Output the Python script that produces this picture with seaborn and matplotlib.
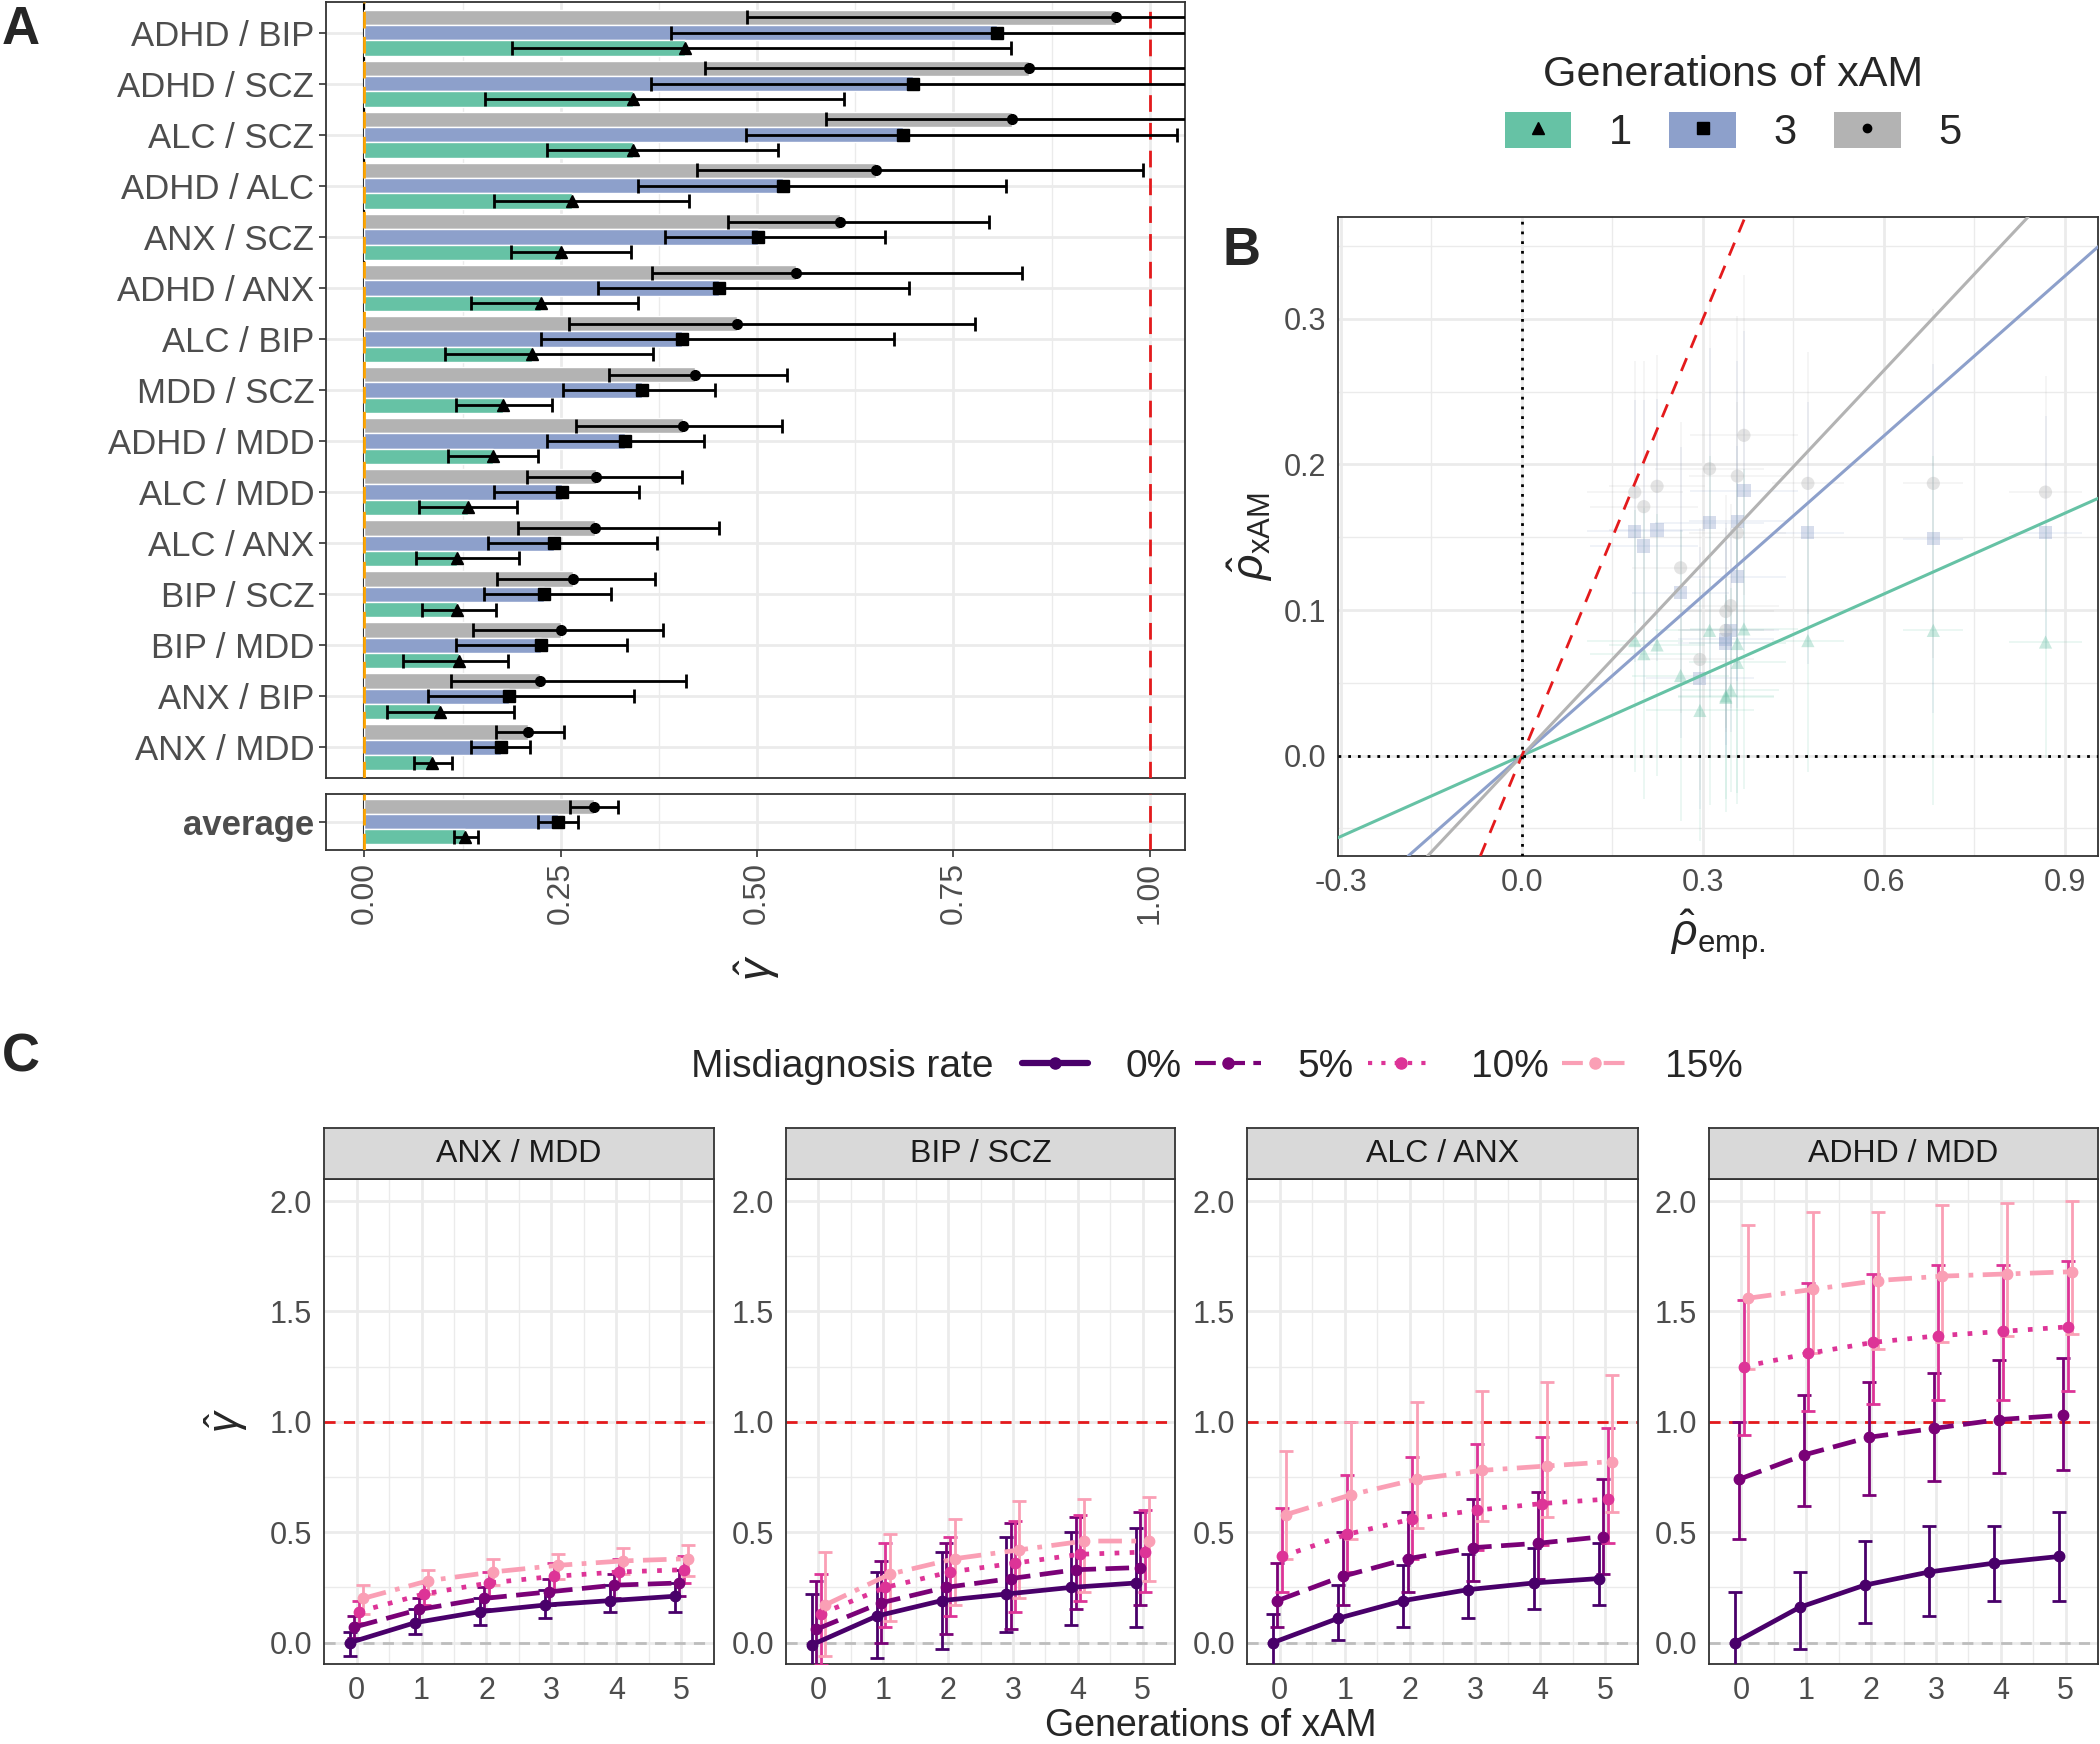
import numpy as np
import pandas as pd
import matplotlib
matplotlib.use("Agg")
import matplotlib.pyplot as plt
import seaborn as sns
from matplotlib.lines import Line2D
from matplotlib.patches import Patch
from matplotlib.legend_handler import HandlerTuple

# ---- data: panel A (gamma per pair and generation) ----
pairs = ["ADHD / BIP", "ADHD / SCZ", "ALC / SCZ", "ADHD / ALC", "ANX / SCZ",
         "ADHD / ANX", "ALC / BIP", "MDD / SCZ", "ADHD / MDD", "ALC / MDD",
         "ALC / ANX", "BIP / SCZ", "BIP / MDD", "ANX / BIP", "ANX / MDD"]
g1 = [0.408, 0.342, 0.342, 0.264, 0.250, 0.225, 0.213, 0.177, 0.164, 0.132, 0.118, 0.118, 0.121, 0.096, 0.086]
g1_lo = [0.188, 0.154, 0.232, 0.165, 0.186, 0.136, 0.102, 0.116, 0.106, 0.069, 0.066, 0.073, 0.049, 0.029, 0.063]
g1_hi = [0.823, 0.611, 0.527, 0.413, 0.340, 0.348, 0.367, 0.239, 0.221, 0.194, 0.197, 0.168, 0.183, 0.191, 0.112]
g3 = [0.805, 0.698, 0.686, 0.533, 0.501, 0.452, 0.404, 0.354, 0.332, 0.251, 0.241, 0.229, 0.225, 0.184, 0.174]
g3_lo = [0.390, 0.365, 0.486, 0.348, 0.383, 0.298, 0.225, 0.253, 0.232, 0.165, 0.157, 0.152, 0.117, 0.081, 0.136]
g3_hi = [1.300, 1.150, 1.035, 0.817, 0.663, 0.693, 0.674, 0.447, 0.433, 0.350, 0.372, 0.314, 0.334, 0.343, 0.211]
g5 = [0.957, 0.846, 0.825, 0.652, 0.605, 0.550, 0.475, 0.421, 0.406, 0.295, 0.293, 0.265, 0.250, 0.223, 0.208]
g5_lo = [0.487, 0.434, 0.588, 0.424, 0.463, 0.366, 0.260, 0.312, 0.269, 0.207, 0.195, 0.169, 0.138, 0.110, 0.167]
g5_hi = [1.400, 1.250, 1.150, 0.991, 0.796, 0.837, 0.777, 0.538, 0.532, 0.404, 0.451, 0.370, 0.380, 0.409, 0.254]

avg_gamma = [0.128, 0.246, 0.292]   # gen 1, 3, 5
avg_lo = [0.114, 0.221, 0.262]
avg_hi = [0.145, 0.272, 0.323]

# ---- data: panel B (empirical vs xAM correlation) ----
rho_emp = [0.187, 0.202, 0.224, 0.311, 0.368, 0.357, 0.263, 0.357, 0.474, 0.346, 0.338, 0.682, 0.338, 0.295, 0.868]
rho_xam_g1 = [0.079, 0.070, 0.076, 0.086, 0.087, 0.077, 0.055, 0.064, 0.079, 0.045, 0.041, 0.086, 0.040, 0.031, 0.078]
rho_xam_g3 = [0.154, 0.144, 0.155, 0.160, 0.182, 0.161, 0.112, 0.123, 0.153, 0.086, 0.080, 0.149, 0.077, 0.053, 0.153]
rho_xam_g5 = [0.181, 0.171, 0.185, 0.197, 0.220, 0.192, 0.129, 0.153, 0.187, 0.103, 0.099, 0.187, 0.086, 0.066, 0.181]
emp_err = [0.08, 0.09, 0.08, 0.09, 0.09, 0.08, 0.08, 0.08, 0.06, 0.08, 0.08, 0.05, 0.08, 0.09, 0.06]
xam_err = [0.09, 0.10, 0.09, 0.12, 0.11, 0.11, 0.10, 0.09, 0.09, 0.07, 0.08, 0.12, 0.07, 0.09, 0.08]
slopes = [0.185, 0.366, 0.441]

# ---- data: panel C (gamma vs generations, by misdiagnosis rate) ----
facets = ["ANX / MDD", "BIP / SCZ", "ALC / ANX", "ADHD / MDD"]
rates = ["0%", "5%", "10%", "15%"]
generations = [0, 1, 2, 3, 4, 5]

anx_mdd_mean = [[0.00, 0.09, 0.14, 0.17, 0.19, 0.21],
                [0.07, 0.15, 0.20, 0.23, 0.26, 0.27],
                [0.14, 0.22, 0.27, 0.30, 0.32, 0.33],
                [0.20, 0.28, 0.32, 0.35, 0.37, 0.38]]
anx_mdd_lo = [[-0.06, 0.04, 0.08, 0.11, 0.14, 0.14],
              [0.02, 0.10, 0.15, 0.17, 0.20, 0.21],
              [0.09, 0.17, 0.21, 0.24, 0.26, 0.27],
              [0.13, 0.22, 0.26, 0.29, 0.31, 0.30]]
anx_mdd_hi = [[0.05, 0.15, 0.20, 0.24, 0.26, 0.27],
              [0.12, 0.20, 0.25, 0.29, 0.31, 0.33],
              [0.19, 0.27, 0.32, 0.36, 0.38, 0.39],
              [0.26, 0.33, 0.38, 0.40, 0.43, 0.44]]

bip_scz_mean = [[-0.01, 0.12, 0.19, 0.22, 0.25, 0.27],
                [0.06, 0.18, 0.25, 0.29, 0.33, 0.34],
                [0.13, 0.25, 0.32, 0.36, 0.40, 0.41],
                [0.17, 0.31, 0.38, 0.42, 0.46, 0.46]]
bip_scz_lo = [[-0.16, -0.07, -0.03, 0.05, 0.08, 0.07],
              [-0.12, 0.00, 0.04, 0.06, 0.15, 0.17],
              [-0.10, 0.07, 0.12, 0.14, 0.19, 0.23],
              [-0.06, 0.10, 0.17, 0.20, 0.23, 0.28]]
bip_scz_hi = [[0.22, 0.32, 0.41, 0.48, 0.50, 0.52],
              [0.28, 0.37, 0.45, 0.54, 0.57, 0.59],
              [0.31, 0.45, 0.48, 0.55, 0.58, 0.60],
              [0.41, 0.49, 0.56, 0.64, 0.65, 0.66]]

alc_anx_mean = [[0.00, 0.11, 0.19, 0.24, 0.27, 0.29],
                [0.19, 0.30, 0.38, 0.43, 0.45, 0.48],
                [0.39, 0.49, 0.56, 0.60, 0.63, 0.65],
                [0.58, 0.67, 0.74, 0.78, 0.80, 0.82]]
alc_anx_lo = [[-0.12, 0.01, 0.07, 0.11, 0.15, 0.17],
              [0.07, 0.17, 0.23, 0.28, 0.29, 0.31],
              [0.23, 0.32, 0.38, 0.42, 0.44, 0.45],
              [0.38, 0.47, 0.52, 0.55, 0.57, 0.59]]
alc_anx_hi = [[0.13, 0.26, 0.35, 0.40, 0.43, 0.45],
              [0.36, 0.50, 0.59, 0.65, 0.68, 0.74],
              [0.61, 0.76, 0.84, 0.90, 0.93, 0.97],
              [0.87, 1.00, 1.09, 1.14, 1.18, 1.21]]

adhd_mdd_mean = [[0.00, 0.16, 0.26, 0.32, 0.36, 0.39],
                 [0.74, 0.85, 0.93, 0.97, 1.01, 1.03],
                 [1.25, 1.31, 1.36, 1.39, 1.41, 1.43],
                 [1.56, 1.60, 1.64, 1.66, 1.67, 1.68]]
adhd_mdd_lo = [[-0.12, -0.03, 0.09, 0.12, 0.19, 0.19],
               [0.47, 0.62, 0.67, 0.73, 0.77, 0.78],
               [0.94, 1.05, 1.08, 1.10, 1.10, 1.14],
               [1.24, 1.31, 1.33, 1.36, 1.39, 1.40]]
adhd_mdd_hi = [[0.23, 0.32, 0.46, 0.53, 0.53, 0.59],
               [1.00, 1.12, 1.18, 1.22, 1.28, 1.29],
               [1.55, 1.63, 1.67, 1.71, 1.71, 1.73],
               [1.89, 1.95, 1.95, 1.98, 1.99, 2.00]]

facet_data = {
    "ANX / MDD": (anx_mdd_mean, anx_mdd_lo, anx_mdd_hi),
    "BIP / SCZ": (bip_scz_mean, bip_scz_lo, bip_scz_hi),
    "ALC / ANX": (alc_anx_mean, alc_anx_lo, alc_anx_hi),
    "ADHD / MDD": (adhd_mdd_mean, adhd_mdd_lo, adhd_mdd_hi),
}

# ---- style ----
sns.set_theme(style="white")
plt.rcParams['font.family'] = ['Liberation Sans', 'DejaVu Sans']
plt.rcParams['mathtext.fontset'] = 'custom'
plt.rcParams['mathtext.rm'] = 'Liberation Sans'
plt.rcParams['mathtext.it'] = 'Liberation Sans:italic'

gens = ["1", "3", "5"]
gen_colors = {"1": "#66C2A5", "3": "#8DA0CB", "5": "#B3B3B3"}
gen_markers = {"1": "^", "3": "s", "5": "o"}
rate_colors = {"0%": "#49006A", "5%": "#7A0177", "10%": "#DD3497", "15%": "#FA9FB5"}
rate_dashes = {"0%": "", "5%": (5, 2), "10%": (1, 2.2), "15%": (5, 2, 1, 2)}
rate_ls = {"0%": "-", "5%": (0, (5, 2)), "10%": (0, (1, 2.2)), "15%": (0, (5, 2, 1, 2))}

GRID = "#EBEBEB"
SPINE = "#333333"
TICKC = "#4D4D4D"
W, H = 2100, 1744


def frame(ax):
    for s in ax.spines.values():
        s.set_color(SPINE)
        s.set_linewidth(1.3)
    ax.set_axisbelow(True)
    ax.tick_params(colors=SPINE, labelcolor=TICKC, length=5, width=1.2)


def px_axes(fig, x0, y0, x1, y1):
    return fig.add_axes([x0 / W, 1 - y1 / H, (x1 - x0) / W, (y1 - y0) / H])


fig = plt.figure(figsize=(21, 17.44), dpi=100)

# ================= Panel A =================
df_a = pd.DataFrame({
    "pair": pairs * 3,
    "gen": ["1"] * 15 + ["3"] * 15 + ["5"] * 15,
    "gamma": g1 + g3 + g5,
    "lo": g1_lo + g3_lo + g5_lo,
    "hi": g1_hi + g3_hi + g5_hi,
})
df_avg = pd.DataFrame({"pair": ["average"] * 3, "gen": gens,
                       "gamma": avg_gamma, "lo": avg_lo, "hi": avg_hi})

hue_order = ["5", "3", "1"]
offsets = dict(zip(hue_order, [-0.3, 0.0, 0.3]))

ax_a = px_axes(fig, 326, 2, 1185, 778)
ax_avg = px_axes(fig, 326, 794, 1185, 850)

for ax, d, order in [(ax_a, df_a, pairs), (ax_avg, df_avg, ["average"])]:
    sns.barplot(data=d, y="pair", x="gamma", hue="gen", hue_order=hue_order,
                order=order, palette=gen_colors, width=0.9, orient="h",
                saturation=1, errorbar=None, legend=False, ax=ax, zorder=2)
    ax.axvline(0, color="black", lw=1.5, zorder=1)
    ax.axvline(0, color="orange", lw=2, ls=(0, (6, 3)), zorder=3)
    ax.axvline(1, color="#E41A1C", lw=2, ls=(0, (6, 4)), zorder=3)
    for g in gens:
        sub = d[d["gen"] == g]
        ypos = np.array([order.index(p) for p in sub["pair"]]) + offsets[g]
        ax.errorbar(sub["gamma"], ypos,
                    xerr=[sub["gamma"] - sub["lo"], sub["hi"] - sub["gamma"]],
                    fmt=gen_markers[g], color="black", ms=8 if g != "5" else 7,
                    elinewidth=2, capsize=5, capthick=2, zorder=4)
    ax.set_xlim(-0.049, 1.045)
    ax.set_xticks([0, 0.25, 0.5, 0.75, 1.0])
    ax.set_xticks([0.125, 0.375, 0.625, 0.875], minor=True)
    ax.grid(which="major", color=GRID, lw=2)
    ax.grid(which="minor", axis="x", color=GRID, lw=1)
    ax.set_xlabel("")
    ax.set_ylabel("")
    frame(ax)

ax_a.set_ylim(len(pairs) - 0.4, -0.6)
ax_a.tick_params(axis="x", which="both", bottom=False, labelbottom=False)
ax_a.tick_params(axis="y", labelsize=25, left=True)
ax_avg.set_ylim(0.56, -0.56)
ax_avg.tick_params(axis="y", labelsize=25, left=True)
ax_avg.tick_params(axis="x", bottom=True, labelsize=23)
for t in ax_avg.get_yticklabels():
    t.set_fontweight("bold")
ax_avg.set_xticklabels(["0.00", "0.25", "0.50", "0.75", "1.00"], rotation=90)

fig.text(757 / W, 1 - 968 / H, r"$\hat{\gamma}$", rotation=90, fontsize=32,
         ha="center", va="center")

# legend for A/B
handles = [(Patch(facecolor=gen_colors[g], edgecolor="none"),
            Line2D([], [], marker=gen_markers[g], color="black", ls="none",
                   ms=8 if g != "5" else 6)) for g in gens]
leg = fig.legend(handles, gens, title="Generations of xAM", ncol=3,
                 loc="center", bbox_to_anchor=(1733 / W, 1 - 104 / H),
                 frameon=False, fontsize=30, title_fontsize=31,
                 handlelength=1.6, handleheight=0.95, handletextpad=0.9,
                 columnspacing=0.9,
                 handler_map={tuple: HandlerTuple(ndivide=1, pad=0)})
leg._legend_box.sep = 12

# ================= Panel B =================
df_b = pd.DataFrame({
    "rho_emp": rho_emp * 3,
    "rho_xam": rho_xam_g1 + rho_xam_g3 + rho_xam_g5,
    "gen": ["1"] * 15 + ["3"] * 15 + ["5"] * 15,
    "emp_err": emp_err * 3,
    "xam_err": xam_err * 3,
})
ax_b = px_axes(fig, 1338, 217, 2098, 856)
for g in gens:
    sub = df_b[df_b["gen"] == g]
    ax_b.errorbar(sub["rho_emp"], sub["rho_xam"], xerr=sub["emp_err"],
                  yerr=sub["xam_err"], fmt="none", ecolor=gen_colors[g],
                  alpha=0.15, elinewidth=1.2, zorder=1)
sns.scatterplot(data=df_b, x="rho_emp", y="rho_xam", hue="gen", style="gen",
                markers=gen_markers, palette=gen_colors, s=90, alpha=0.35,
                edgecolor="none", legend=False, ax=ax_b, zorder=2)
for g, s in zip(gens, slopes):
    ax_b.axline((0, 0), slope=s, color=gen_colors[g], lw=2.2, zorder=3)
ax_b.axline((0, 0), slope=1, color="#E41A1C", lw=2, ls=(0, (5, 4)), zorder=3)
ax_b.axhline(0, color="black", ls=(0, (1, 2.5)), lw=2, zorder=3)
ax_b.axvline(0, color="black", ls=(0, (1, 2.5)), lw=2, zorder=3)
ax_b.set_xlim(-0.305, 0.955)
ax_b.set_ylim(-0.069, 0.370)
ax_b.set_xticks([-0.3, 0.0, 0.3, 0.6, 0.9])
ax_b.set_xticklabels(["-0.3", "0.0", "0.3", "0.6", "0.9"])
ax_b.set_xticks([-0.15, 0.15, 0.45, 0.75], minor=True)
ax_b.set_yticks([0.0, 0.1, 0.2, 0.3])
ax_b.set_yticklabels(["0.0", "0.1", "0.2", "0.3"])
ax_b.set_yticks([-0.05, 0.05, 0.15, 0.25, 0.35], minor=True)
ax_b.grid(which="major", color=GRID, lw=2)
ax_b.grid(which="minor", color=GRID, lw=1)
ax_b.set_xlabel("")
ax_b.set_ylabel("")
frame(ax_b)
ax_b.tick_params(labelsize=22)
fig.text(1250 / W, 1 - 537 / H, r"$\hat{\rho}_{\mathrm{xAM}}$", rotation=90,
         fontsize=32, ha="center", va="center")
fig.text(1718 / W, 1 - 935 / H, r"$\hat{\rho}_{\mathrm{emp.}}$", fontsize=32,
         ha="center", va="center")

# ================= Panel C =================
facet_x = [(324, 714), (786, 1175), (1247, 1638), (1709, 2098)]
dodge_w = 0.27
rate_off = dict(zip(rates, (np.arange(4) - 1.5) * dodge_w / 4))

for name, (x0, x1) in zip(facets, facet_x):
    mean, lo, hi = facet_data[name]
    rows = []
    for i, r in enumerate(rates):
        for j, gnum in enumerate(generations):
            rows.append({"gen": gnum, "rate": r, "mean": mean[i][j],
                         "lo": lo[i][j], "hi": hi[i][j]})
    d = pd.DataFrame(rows)
    d["xd"] = d["gen"] + d["rate"].map(rate_off)

    ax = px_axes(fig, x0, 1179, x1, 1664)
    ax.axhline(0, color="#BDBDBD", lw=2, ls=(0, (4, 3)), zorder=1)
    ax.axhline(1, color="#E41A1C", lw=2, ls=(0, (4, 3)), zorder=1)
    for r in rates:
        sub = d[d["rate"] == r]
        ax.errorbar(sub["xd"], sub["mean"], yerr=[sub["mean"] - sub["lo"], sub["hi"] - sub["mean"]],
                    fmt="o", color=rate_colors[r], ms=7.5, elinewidth=2,
                    capsize=5, capthick=2, zorder=3)
    sns.lineplot(data=d, x="xd", y="mean", hue="rate", style="rate",
                 hue_order=rates, style_order=rates, palette=rate_colors,
                 dashes=rate_dashes, lw=3.4, legend=False, ax=ax, zorder=4)
    ax.set_xlim(-0.5, 5.5)
    ax.set_ylim(-0.097, 2.10)
    ax.set_xticks(generations)
    ax.set_xticks([0.5, 1.5, 2.5, 3.5, 4.5], minor=True)
    ax.set_yticks([0.0, 0.5, 1.0, 1.5, 2.0])
    ax.set_yticklabels(["0.0", "0.5", "1.0", "1.5", "2.0"])
    ax.set_yticks([0.25, 0.75, 1.25, 1.75], minor=True)
    ax.grid(which="major", color=GRID, lw=2)
    ax.grid(which="minor", color=GRID, lw=1)
    ax.set_xlabel("")
    ax.set_ylabel("")
    frame(ax)
    ax.tick_params(labelsize=22)

    strip = px_axes(fig, x0, 1128, x1, 1179)
    strip.set_facecolor("#D9D9D9")
    strip.set_xticks([])
    strip.set_yticks([])
    for s in strip.spines.values():
        s.set_color(SPINE)
        s.set_linewidth(1.3)
    strip.text(0.5, 0.5, name, ha="center", va="center", fontsize=23,
               color="#1A1A1A", transform=strip.transAxes)

fig.text(226 / W, 1 - 1421 / H, r"$\hat{\gamma}$", rotation=90, fontsize=30,
         ha="center", va="center")
fig.text(1211 / W, 1 - 1726 / H, "Generations of xAM", fontsize=27,
         ha="center", va="center")

fig.text(691 / W, 1 - 1067 / H, "Misdiagnosis rate", fontsize=28,
         ha="left", va="center")
rate_handles = [Line2D([], [], color=rate_colors[r], ls=rate_ls[r],
                       lw=4.5 if r == "0%" else 3, marker="o", ms=8) for r in rates]
fig.legend(rate_handles, rates, ncol=4, loc="center left",
           bbox_to_anchor=(1022 / W, 1 - 1067 / H), frameon=False, fontsize=28,
           handlelength=1.7, handletextpad=0.95, columnspacing=0.35,
           borderpad=0, borderaxespad=0)

# panel letters
fig.text(2 / W, 1 - 30 / H, "A", fontsize=38, fontweight="bold", va="center")
fig.text(1222 / W, 1 - 251 / H, "B", fontsize=38, fontweight="bold", va="center")
fig.text(2 / W, 1 - 1057 / H, "C", fontsize=38, fontweight="bold", va="center")

fig.savefig("out.png", dpi=100)
